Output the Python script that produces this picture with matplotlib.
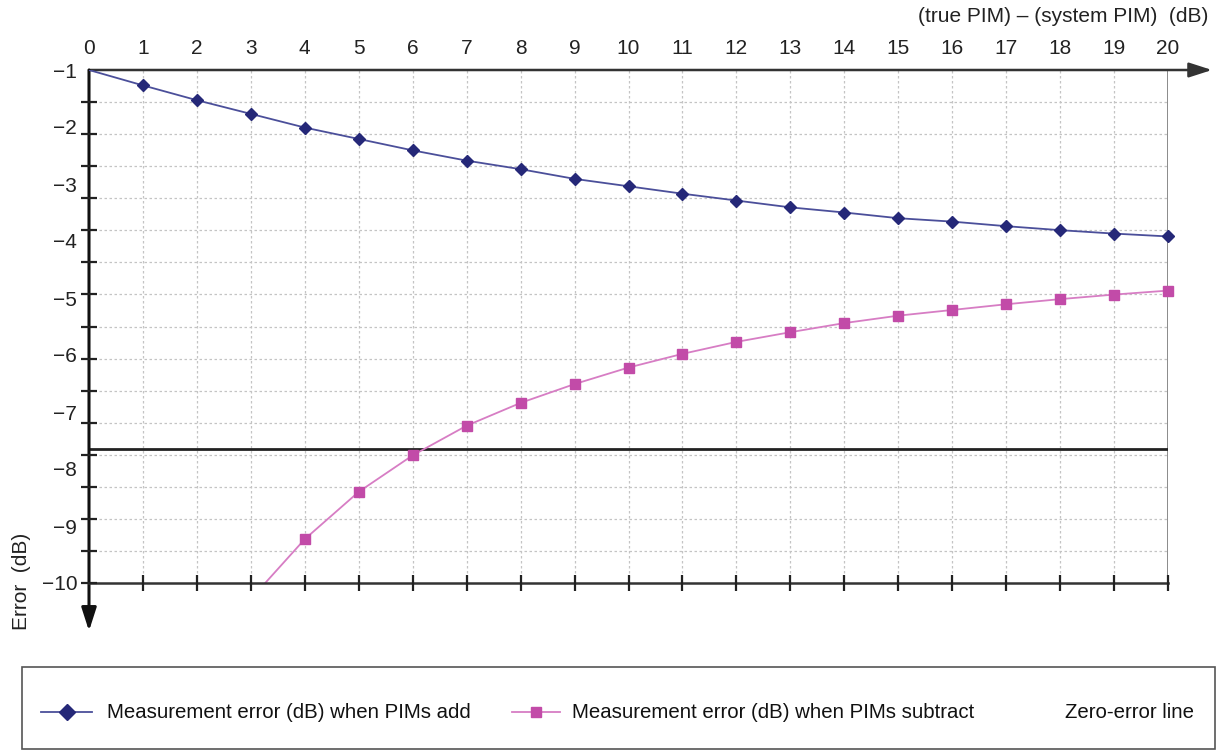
import matplotlib.pyplot as plt
import numpy as np
from matplotlib.lines import Line2D
from matplotlib.patches import Rectangle

plt.rcParams['font.family'] = ['Liberation Sans', 'DejaVu Sans']

# data
x_add = list(range(0, 21))
err_add = [-1.00, -1.27, -1.53, -1.77, -2.01, -2.21, -2.41, -2.59, -2.74, -2.91,
           -3.04, -3.17, -3.29, -3.41, -3.50, -3.60, -3.66, -3.74, -3.81, -3.87, -3.92]

x_sub = list(range(3, 21))
err_sub = [-10.28, -9.23, -8.40, -7.76, -7.24, -6.84, -6.51, -6.22, -5.98, -5.77,
           -5.60, -5.44, -5.31, -5.21, -5.11, -5.02, -4.94, -4.87]

zero_err = -7.65

xticks = list(range(0, 21))
yticks = list(range(-1, -11, -1))

blue = '#252878'
blue_line = '#4b4f9a'
pink = '#c24ba8'
pink_line = '#d77dc4'
grid_c = '#c4c4c4'

fig = plt.figure(figsize=(12.18, 7.51), dpi=100)
ax = fig.add_axes([89/1218, 168/751, 1079/1218, 513/751])

ax.set_xlim(0, 20)
ax.set_ylim(-10, -1)

# grid: vertical at each integer, horizontal at 16 equal steps
ygrid = np.linspace(-10, -1, 17)
for xv in xticks[1:-1]:
    ax.axvline(xv, color=grid_c, lw=0.9, ls=(0, (2, 2)), zorder=1)
for yv in ygrid[1:-1]:
    ax.axhline(yv, color=grid_c, lw=0.9, ls=(0, (2, 2)), zorder=1)

# lines (clipped) and markers (not clipped, skip first add point and off-axis sub point)
ax.plot(x_add, err_add, color=blue_line, lw=1.3, zorder=4)
ax.plot(x_add[1:], err_add[1:], ls='none', marker='D', ms=6.5,
        mfc=blue, mec=blue, zorder=6, clip_on=False)
ax.plot(x_sub, err_sub, color=pink_line, lw=1.3, zorder=4)
ax.plot(x_sub[1:], err_sub[1:], ls='none', marker='s', ms=6.5,
        mfc=pink, mec=pink, zorder=6, clip_on=False)
ax.axhline(zero_err, color='#222222', lw=2.0, zorder=3)

for s in ax.spines.values():
    s.set_visible(False)

# bottom line with crossing ticks
ax.axhline(-10, color='#333333', lw=1.8, zorder=5, clip_on=False)
ax.plot(xticks[1:], [-10]*20, ls='none', marker='|', ms=12, mew=1.6,
        color='#222222', clip_on=False, zorder=5)
# right line
ax.axvline(20, color='#777777', lw=1.2, zorder=2)

# y ticks crossing the left axis
ax.plot([0]*16, ygrid[:-1], ls='none', marker='_', ms=12, mew=1.6,
        color='#222222', clip_on=False, zorder=5)

ax.xaxis.tick_top()
ax.set_xticks(xticks)
ax.set_yticks(yticks)
ax.tick_params(axis='x', length=0, pad=9, labelsize=15, colors='#222222')
ax.tick_params(axis='y', length=0, pad=8.5, labelsize=15, colors='#222222')

# top axis arrow
ax.annotate('', xy=(1212/1218, 681/751), xytext=(89/1218, 681/751),
            xycoords='figure fraction',
            arrowprops=dict(arrowstyle='-|>,head_length=1.4,head_width=0.45',
                            color='#333333', lw=1.8, shrinkA=0, shrinkB=0))
# left axis arrow
ax.annotate('', xy=(89/1218, (751-631)/751), xytext=(89/1218, 681/751),
            xycoords='figure fraction',
            arrowprops=dict(arrowstyle='-|>,head_length=1.4,head_width=0.45',
                            color='#111111', lw=2.2, shrinkA=0, shrinkB=0))

fig.text(1208/1218, (751-17)/751, '(true PIM) \u2013 (system PIM)  (dB)',
         ha='right', va='center', fontsize=15, color='#222222')
fig.text(22/1218, (751-630)/751, 'Error  (dB)', rotation=90,
         ha='center', va='bottom', fontsize=15, color='#222222')

# legend box
fig.patches.append(Rectangle((22/1218, 2/751), 1193/1218, 82/751,
                             transform=fig.transFigure, fill=False,
                             ec='#555555', lw=1.2))
ly = (751-712)/751
fig.lines.append(Line2D([41/1218, 92/1218], [ly, ly], transform=fig.transFigure,
                        color=blue_line, lw=1.3))
fig.lines.append(Line2D([66.5/1218], [ly], transform=fig.transFigure, ls='none',
                        marker='D', ms=8, mfc=blue, mec=blue))
fig.text(107/1218, ly, 'Measurement error (dB) when PIMs add', ha='left',
         va='center', fontsize=14.7, color='#111111')
fig.lines.append(Line2D([512/1218, 560/1218], [ly, ly], transform=fig.transFigure,
                        color=pink_line, lw=1.3))
fig.lines.append(Line2D([536/1218], [ly], transform=fig.transFigure, ls='none',
                        marker='s', ms=7.5, mfc=pink, mec=pink))
fig.text(572/1218, ly, 'Measurement error (dB) when PIMs subtract', ha='left',
         va='center', fontsize=14.7, color='#111111')
fig.text(1065/1218, ly, 'Zero-error line', ha='left', va='center',
         fontsize=14.7, color='#111111')

fig.savefig('out.png', dpi=100)
